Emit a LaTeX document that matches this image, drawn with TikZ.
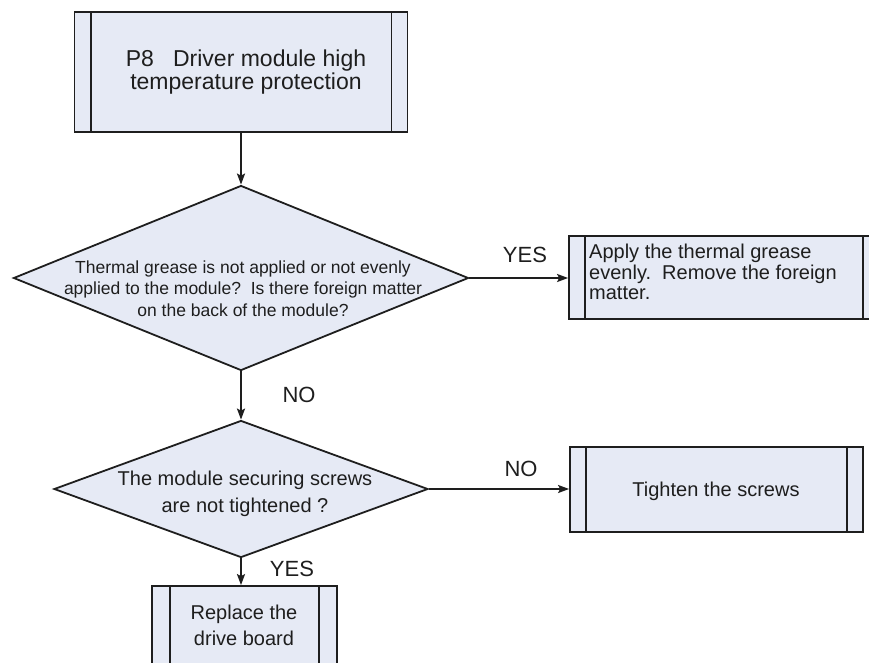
\documentclass[tikz,border=0pt]{standalone}
\usepackage{fontspec}
\setmainfont{Liberation Sans}
\usetikzlibrary{shapes.geometric,arrows.meta}
\definecolor{boxfill}{RGB}{230,234,245}
\definecolor{ink}{RGB}{30,30,30}
\begin{document}
\begin{tikzpicture}[x=1pt,y=-1pt,
  line/.style={line width=1.8pt,draw=ink},
  proc/.style={draw=ink, line width=1.8pt, fill=boxfill, rectangle, inner sep=0pt},
  dec/.style={draw=ink, line width=1.8pt, fill=boxfill, diamond, inner sep=0pt},
  txt/.style={text=ink, align=center, inner sep=0pt},
  lbl/.style={text=ink, font=\fontsize{22}{24}\selectfont, inner sep=0pt},
  arr/.style={line width=1.8pt, draw=ink, -{Stealth[length=11pt,width=8pt,inset=2pt]}}
]
\useasboundingbox (0,0) rectangle (869,662);

% top box
\node[proc, minimum width=333pt, minimum height=120pt] (top) at (241,72) {};
\draw[line] ([xshift=17pt]top.north west) -- ([xshift=17pt]top.south west);
\draw[line] ([xshift=-17pt]top.north east) -- ([xshift=-17pt]top.south east);
\node[txt, font=\fontsize{23}{21}\selectfont] (toptxt) at (246,72) {P8\ \ \ Driver module high\\temperature protection};

% decision 1
\node[dec, minimum width=455pt, minimum height=185pt] (d1) at (241,278) {};
\node[txt, font=\fontsize{17.5}{21.5}\selectfont] (d1t) at (243,288.5) {Thermal grease is not applied or not evenly\\applied to the module?\ \ Is there foreign matter\\on the back of the module?};

% box 1
\node[proc, minimum width=310pt, minimum height=83pt] (b1) at (724,277.5) {};
\draw[line] ([xshift=17pt]b1.north west) -- ([xshift=17pt]b1.south west);
\draw[line] ([xshift=-17pt]b1.north east) -- ([xshift=-17pt]b1.south east);
\node[txt, align=left, anchor=west, font=\fontsize{20}{20.5}\selectfont] (b1t) at (589,272) {Apply the thermal grease\\evenly.\ \ Remove the foreign\\matter.};

% decision 2
\node[dec, minimum width=374pt, minimum height=137pt] (d2) at (241,489) {};
\node[txt, font=\fontsize{20}{27}\selectfont] (d2t) at (245,493.5) {The module securing screws\\are not tightened ?};

% box 2
\node[proc, minimum width=293pt, minimum height=85pt] (b2) at (716.5,489.5) {};
\draw[line] ([xshift=17pt]b2.north west) -- ([xshift=17pt]b2.south west);
\draw[line] ([xshift=-17pt]b2.north east) -- ([xshift=-17pt]b2.south east);
\node[txt, font=\fontsize{20}{26}\selectfont] (b2t) at (716,491) {Tighten the screws};

% box 3
\node[proc, minimum width=185pt, minimum height=110pt] (b3) at (244.5,641) {};
\draw[line] ([xshift=19pt]b3.north west) -- ([xshift=19pt]b3.south west);
\draw[line] ([xshift=-19pt]b3.north east) -- ([xshift=-19pt]b3.south east);
\node[txt, font=\fontsize{20}{26}\selectfont] (b3t) at (244,625) {Replace the\\drive board};

% connectors
\draw[arr] (top.south) -- (d1.north);
\draw[arr] (d1.east) -- (b1.west |- d1.east);
\draw[arr] (d1.south) -- (d2.north);
\draw[arr] (d2.east) -- (b2.west |- d2.east);
\draw[arr] (d2.south) -- (d2.south |- b3.north);

% labels
\node[lbl] (yes1) at (525,255) {YES};
\node[lbl] (no1) at (299,395) {NO};
\node[lbl] (no2) at (521,469) {NO};
\node[lbl] (yes2) at (292,569) {YES};
\end{tikzpicture}
\end{document}
